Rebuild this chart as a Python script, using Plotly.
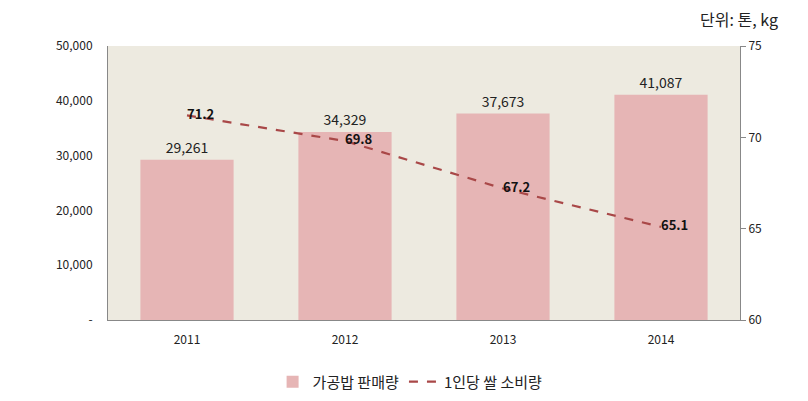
import plotly.graph_objects as go

years = ["2011", "2012", "2013", "2014"]
sales = [29261, 34329, 37673, 41087]
per_capita = [71.2, 69.8, 67.2, 65.1]
left_ticks = [0, 10000, 20000, 30000, 40000, 50000]
left_labels = ["-", "10,000", "20,000", "30,000", "40,000", "50,000"]
right_ticks = [60, 65, 70, 75]

font_kr = "Noto Sans CJK KR"

fig = go.Figure()

fig.add_trace(go.Bar(
    x=years, y=sales, name="가공밥 판매량",
    marker=dict(color="#E6B5B5", line=dict(width=0)),
    width=0.59,
    text=[f"{v:,}" for v in sales], textposition="outside",
    textfont=dict(size=14, color="#222222", family=font_kr),
    cliponaxis=False,
))

fig.add_trace(go.Scatter(
    x=years, y=per_capita, name="1인당 쌀 소비량", yaxis="y2",
    mode="lines+text",
    line=dict(color="#A94848", width=2.2, dash="dash"),
    text=[f"<b>{v}</b>" for v in per_capita], textposition="middle right",
    textfont=dict(size=13, color="#111111", family=font_kr),
    cliponaxis=False,
))

fig.add_annotation(
    text="단위: 톤, kg", xref="paper", yref="paper", x=1.063, y=1.10,
    xanchor="right", yanchor="middle", showarrow=False,
    font=dict(size=16, color="#222222", family=font_kr),
)

# page body adds an 8px offset, so margins are shifted accordingly
fig.update_layout(
    width=808, height=401,
    margin=dict(l=100, r=76, t=38, b=89, autoexpand=False),
    paper_bgcolor="white", plot_bgcolor="#EDEAE0",
    font=dict(family=font_kr, size=12, color="#333333"),
    showlegend=True,
    legend=dict(orientation="h", x=0.478, xanchor="center", y=-0.226, yanchor="middle",
                font=dict(size=15, color="#222222"), traceorder="normal"),
    xaxis=dict(showline=True, linecolor="#888888", linewidth=1, ticks="",
               tickfont=dict(size=12, color="#222222"), ticklabelstandoff=9,
               automargin=False),
    yaxis=dict(range=[0, 50000], tickvals=left_ticks, ticktext=left_labels,
               showgrid=False, showline=True, linecolor="#888888", linewidth=1,
               zeroline=False, tickfont=dict(size=12, color="#222222"), ticklabelstandoff=12,
               automargin=False),
    yaxis2=dict(range=[60, 75], tickvals=right_ticks, overlaying="y", side="right",
                showgrid=False, showline=True, linecolor="#888888", linewidth=1,
                ticks="outside", ticklen=5, tickcolor="#888888", zeroline=False,
                tickfont=dict(size=12, color="#222222"), automargin=False),
)

fig.write_html("out.html")
